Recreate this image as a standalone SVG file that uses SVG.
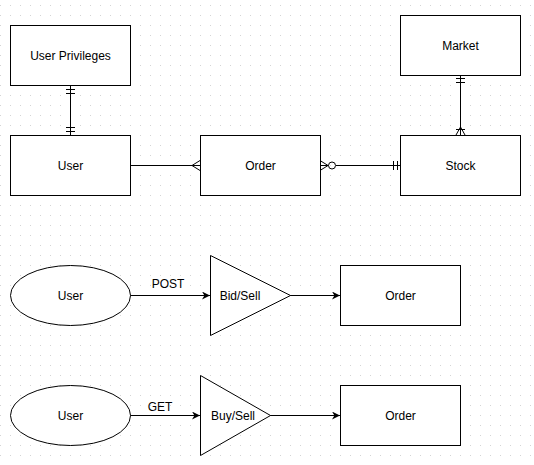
<svg xmlns="http://www.w3.org/2000/svg" width="534" height="465" viewBox="0 0 534 465">
<defs>
<pattern id="grid" patternUnits="userSpaceOnUse" width="10" height="10">
<rect x="0" y="5" width="1" height="1" fill="#d4d4d4"/>
</pattern>
<marker id="arr" viewBox="0 0 10 10" refX="10" refY="5" markerWidth="8" markerHeight="8" markerUnits="userSpaceOnUse" orient="auto">
<path d="M0,0 L10,5 L0,10 L3,5 z" fill="#000"/>
</marker>
<style>
.box{fill:#fff;stroke:#000;stroke-width:1}
.lbl{font-family:"Liberation Sans",Arial,sans-serif;font-size:12px;fill:#000;text-anchor:middle;dominant-baseline:central}
.ln{stroke:#000;stroke-width:1;fill:none}
</style>
</defs>
<rect width="534" height="465" fill="#fff"/>
<rect width="534" height="465" fill="url(#grid)"/>

<g id="connectors">
<!-- User - User Privileges -->
<path class="ln" d="M70.5,85 V135 M66,89.5 H75 M66,93.5 H75 M66,127.5 H75 M66,131.5 H75"/>
<!-- User - Order -->
<path class="ln" d="M130,165.5 H200 M192,165.5 L200,160.5 M192,165.5 L200,170.5"/>
<!-- Order - Stock -->
<path class="ln" d="M320,165.5 H328.5 M336,165.5 H400 M320,160.5 L328,165.5 L320,170.5 M393.5,161 V170 M397.5,161 V170"/>
<circle class="ln" cx="332" cy="165.5" r="3.5"/>
<!-- Stock - Market -->
<path class="ln" d="M460.5,75 V135 M456,78.5 H465 M456,82.5 H465 M456,129.5 H465 M460.5,127 L456,135 M460.5,127 L465,135"/>
<!-- flow 1 -->
<path class="ln" d="M130,295.5 H210" marker-end="url(#arr)"/>
<path class="ln" d="M290,295.5 H340" marker-end="url(#arr)"/>
<text class="lbl" x="168" y="284">POST</text>
<!-- flow 2 -->
<path class="ln" d="M130,415.5 H200" marker-end="url(#arr)"/>
<path class="ln" d="M270,415.5 H340" marker-end="url(#arr)"/>
<text class="lbl" x="160" y="407">GET</text>
</g>

<g id="user-privileges"><rect class="box" x="10.5" y="25.5" width="120" height="60"/><text class="lbl" x="70.5" y="55.5">User Privileges</text></g>
<g id="user"><rect class="box" x="10.5" y="135.5" width="120" height="60"/><text class="lbl" x="70.5" y="165.5">User</text></g>
<g id="order"><rect class="box" x="200.5" y="135.5" width="120" height="60"/><text class="lbl" x="260.5" y="165.5">Order</text></g>
<g id="stock"><rect class="box" x="400.5" y="135.5" width="120" height="60"/><text class="lbl" x="460.5" y="165.5">Stock</text></g>
<g id="market"><rect class="box" x="400.5" y="15.5" width="120" height="60"/><text class="lbl" x="460.5" y="45.5">Market</text></g>

<g id="user-post"><ellipse class="box" cx="70.5" cy="295.5" rx="60" ry="30"/><text class="lbl" x="70.5" y="295.5">User</text></g>
<g id="bid-sell"><polygon class="box" points="210.5,255.5 290.5,295.5 210.5,335.5"/><text class="lbl" x="240" y="295.5">Bid/Sell</text></g>
<g id="order-post"><rect class="box" x="340.5" y="265.5" width="120" height="60"/><text class="lbl" x="400.5" y="295.5">Order</text></g>

<g id="user-get"><ellipse class="box" cx="70.5" cy="415.5" rx="60" ry="30"/><text class="lbl" x="70.5" y="415.5">User</text></g>
<g id="buy-sell"><polygon class="box" points="200.5,375.5 270.5,415.5 200.5,455.5"/><text class="lbl" x="233" y="415.5">Buy/Sell</text></g>
<g id="order-get"><rect class="box" x="340.5" y="385.5" width="120" height="60"/><text class="lbl" x="400.5" y="415.5">Order</text></g>
</svg>
